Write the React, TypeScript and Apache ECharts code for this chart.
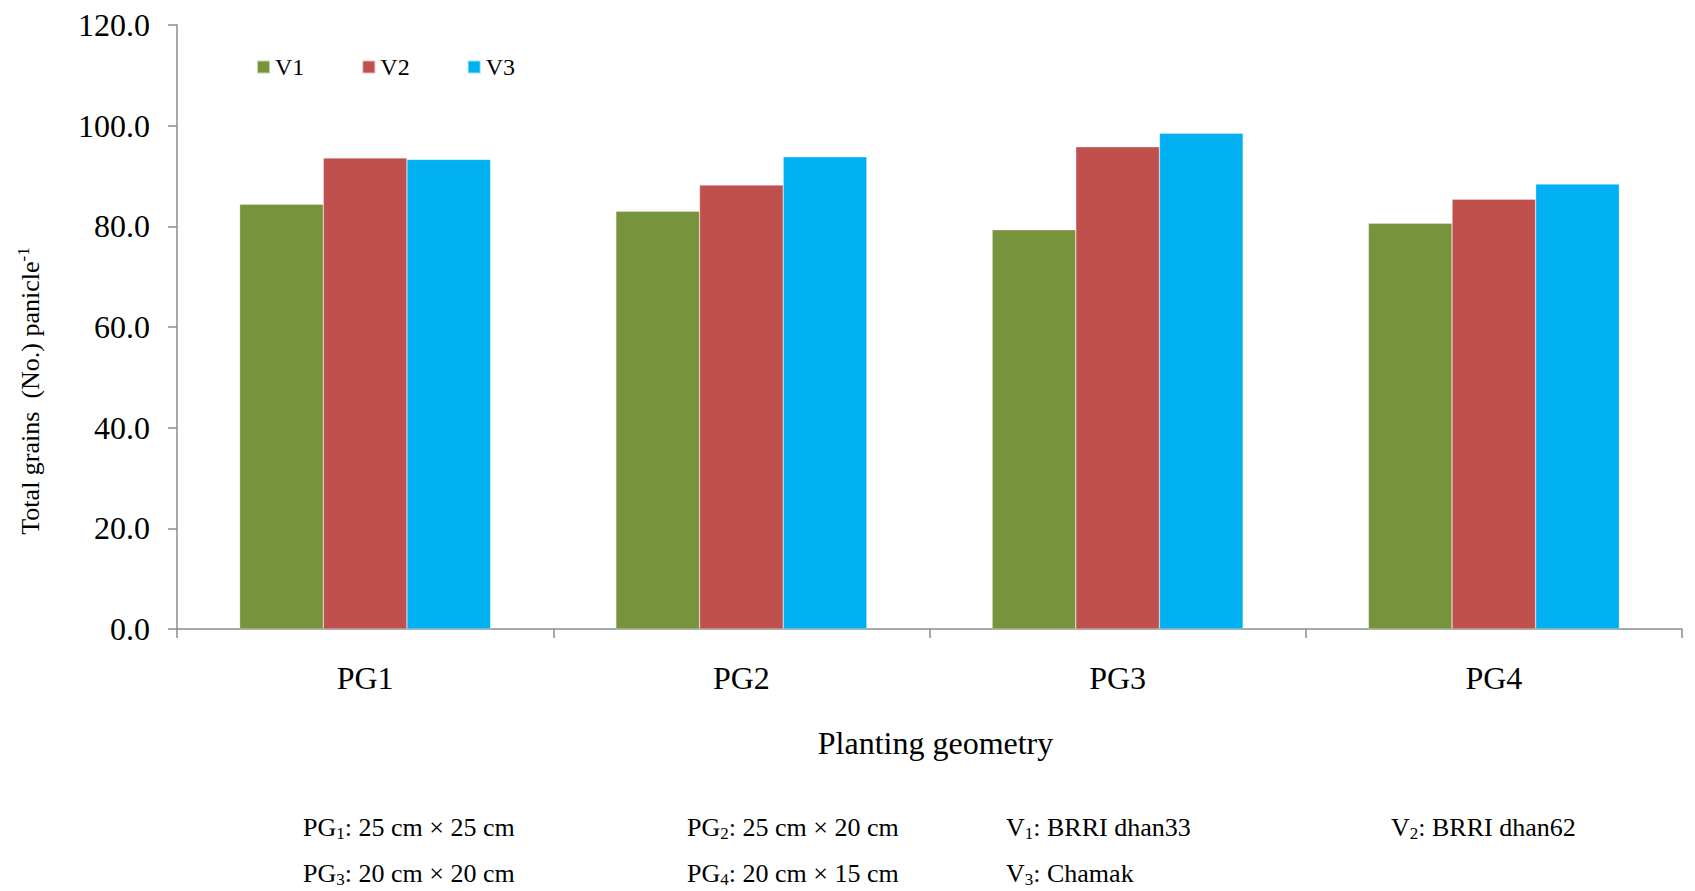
import React, { useEffect, useRef } from "react";
import * as echarts from "echarts";

const categories = ["PG1", "PG2", "PG3", "PG4"];
const seriesNames = ["V1", "V2", "V3"];
const v1Values = [84.4, 83.0, 79.3, 80.6];
const v2Values = [93.6, 88.2, 95.8, 85.4];
const v3Values = [93.3, 93.8, 98.5, 88.4];
const seriesColors = ["#77933C", "#C0504D", "#00B0F0"];
const yMin = 0;
const yMax = 120;
const yInterval = 20;
const xAxisTitle = "Planting geometry";
const noteRow1 = [
  "{n|PG}{s|1}{n|: 25 cm × 25 cm}",
  "{n|PG}{s|2}{n|: 25 cm × 20 cm}",
  "{n|V}{s|1}{n|: BRRI dhan33}",
  "{n|V}{s|2}{n|: BRRI dhan62}",
];
const noteRow2 = [
  "{n|PG}{s|3}{n|: 20 cm × 20 cm}",
  "{n|PG}{s|4}{n|: 20 cm × 15 cm}",
  "{n|V}{s|3}{n|: Chamak}",
];

const FONT = "'Liberation Serif', 'Times New Roman', serif";

export default function App() {
  const ref = useRef<HTMLDivElement>(null);
  useEffect(() => {
    if (!ref.current) return;
    const chart = echarts.init(ref.current, null, { renderer: "svg" });
    const allSeries = [v1Values, v2Values, v3Values];
    const noteCols = [303, 687, 1006, 1391];
    const noteRich = {
      n: { fontFamily: FONT, fontSize: 26, color: "#000", lineHeight: 30 },
      s: { fontFamily: FONT, fontSize: 17, color: "#000", lineHeight: 14, verticalAlign: "bottom" },
    };
    const graphics: any[] = [];
    noteRow1.forEach((t, i) => {
      graphics.push({
        type: "text",
        x: noteCols[i],
        y: 827,
        style: { text: t, rich: noteRich, align: "left", verticalAlign: "middle" },
      });
    });
    noteRow2.forEach((t, i) => {
      graphics.push({
        type: "text",
        x: noteCols[i],
        y: 873,
        style: { text: t, rich: noteRich, align: "left", verticalAlign: "middle" },
      });
    });
    graphics.push({
      type: "text",
      x: 30,
      y: 391,
      rotation: Math.PI / 2,
      style: {
        text: "{n|Total grains  (No.) panicle}{p|-1}",
        rich: {
          n: { fontFamily: FONT, fontSize: 26, color: "#000", lineHeight: 30 },
          p: { fontFamily: FONT, fontSize: 17, color: "#000", lineHeight: 12, verticalAlign: "top" },
        },
        align: "center",
        verticalAlign: "middle",
      },
    });

    chart.setOption({
      animation: false,
      color: seriesColors,
      legend: {
        data: seriesNames,
        left: 251,
        top: 50,
        padding: 5,
        icon: "rect",
        itemWidth: 13,
        itemHeight: 13,
        itemGap: 57,
        textStyle: { fontFamily: FONT, fontSize: 24, color: "#000" },
      },
      grid: { left: 177, right: 13, top: 25, bottom: 262, containLabel: false },
      xAxis: {
        type: "category",
        data: categories,
        name: xAxisTitle,
        nameLocation: "middle",
        nameGap: 98,
        nameTextStyle: { fontFamily: FONT, fontSize: 32, color: "#000", padding: [0, 0, 0, 12] },
        axisLine: { lineStyle: { color: "#8C8C8C", width: 1.5 } },
        axisTick: { show: true, length: 9, lineStyle: { color: "#8C8C8C", width: 1.5 } },
        axisLabel: { fontFamily: FONT, fontSize: 32, color: "#000", margin: 33 },
      },
      yAxis: {
        type: "value",
        min: yMin,
        max: yMax,
        interval: yInterval,
        splitLine: { show: false },
        axisLine: { show: true, lineStyle: { color: "#8C8C8C", width: 1.5 } },
        axisTick: { show: true, length: 9, lineStyle: { color: "#8C8C8C", width: 1.5 } },
        axisLabel: {
          fontFamily: FONT,
          fontSize: 32,
          color: "#000",
          margin: 27,
          formatter: (v: number) => v.toFixed(1),
        },
      },
      series: seriesNames.map((name, i) => ({
        name,
        type: "bar",
        data: allSeries[i],
        barGap: "0%",
        barCategoryGap: "33.3%",
        itemStyle: { color: seriesColors[i], borderColor: "rgba(255,255,255,0.6)", borderWidth: 0.5 },
      })),
      graphic: graphics,
    });
    return () => chart.dispose();
  }, []);
  return (
    <div
      ref={ref}
      style={{ position: "fixed", left: 0, top: 0, width: 1695, height: 891, background: "#fff" }}
    />
  );
}
